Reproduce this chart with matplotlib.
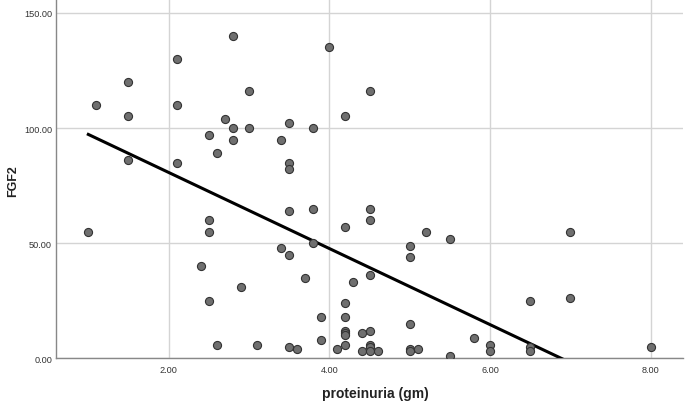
import matplotlib.pyplot as plt
import numpy as np

plt.rcParams['font.family'] = ['Liberation Sans', 'DejaVu Sans']

# proteinuria (gm) and FGF2 values
proteinuria = [1.0, 1.1, 1.5, 1.5, 1.5, 2.1, 2.1, 2.1, 2.4, 2.5, 2.5, 2.5, 2.5,
               2.6, 2.6, 2.7, 2.8, 2.8, 2.8, 2.9, 3.0, 3.0, 3.1, 3.4, 3.4,
               3.5, 3.5, 3.5, 3.5, 3.5, 3.5, 3.6, 3.7, 3.8, 3.8, 3.8, 3.9, 3.9,
               4.0, 4.1, 4.2, 4.2, 4.2, 4.2, 4.2, 4.2, 4.2, 4.2, 4.3, 4.4, 4.4,
               4.5, 4.5, 4.5, 4.5, 4.5, 4.5, 4.5, 4.5, 4.6, 5.0, 5.0, 5.0, 5.0,
               5.0, 5.1, 5.2, 5.5, 5.5, 5.8, 6.0, 6.0, 6.5, 6.5, 6.5, 7.0, 7.0,
               8.0]
fgf2 = [55, 110, 120, 105, 86, 130, 110, 85, 40, 97, 60, 55, 25,
        89, 6, 104, 140, 100, 95, 31, 116, 100, 6, 95, 48,
        102, 85, 82, 64, 45, 5, 4, 35, 100, 65, 50, 18, 8,
        135, 4, 105, 57, 24, 18, 12, 11, 10, 6, 33, 11, 3,
        116, 65, 60, 36, 12, 6, 5, 3, 3, 49, 44, 15, 4,
        3, 4, 55, 52, 1, 9, 6, 3, 25, 5, 3, 55, 26,
        5]

x = np.array(proteinuria)
y = np.array(fgf2)
# linear fit line, like the SPSS "fit line at total"
slope, intercept = np.polyfit(x, y, 1)

fig = plt.figure(figsize=(6.85, 4.02), dpi=100)
ax = fig.add_axes([0.082, 0.106, 0.915, 0.894])

ax.grid(True, color='#d4d4d4', linewidth=1.0)
ax.set_axisbelow(True)

xs = np.array([x.min(), x.max()])
ax.plot(xs, intercept + slope * xs, color='black', linewidth=2.2, zorder=3)
ax.scatter(x, y, s=34, facecolor='#6f6f6f', edgecolor='#333333', linewidth=0.8, zorder=4)

ax.set_xlim(0.6, 8.4)
ax.set_ylim(0, 156)
ax.set_xticks([2, 4, 6, 8])
ax.set_yticks([0, 50, 100, 150])
ax.xaxis.set_major_formatter(lambda v, p: f"{v:.2f}")
ax.yaxis.set_major_formatter(lambda v, p: f"{v:.2f}")
ax.tick_params(length=0, labelsize=6.6, labelcolor='#333333')
ax.tick_params(axis='x', pad=5)
ax.tick_params(axis='y', pad=3)

for s in ['top', 'right']:
    ax.spines[s].set_visible(False)
for s in ['left', 'bottom']:
    ax.spines[s].set_color('#888888')
    ax.spines[s].set_linewidth(1.0)

fig.text(375 / 685, 1 - 394 / 402, "proteinuria (gm)", fontsize=10, fontweight='bold',
         color='#222222', ha='center', va='center')
fig.text(13 / 685, 1 - 181 / 402, "FGF2", fontsize=9, fontweight='bold',
         color='#222222', ha='center', va='center', rotation=90)

fig.savefig("out.png", dpi=100)
